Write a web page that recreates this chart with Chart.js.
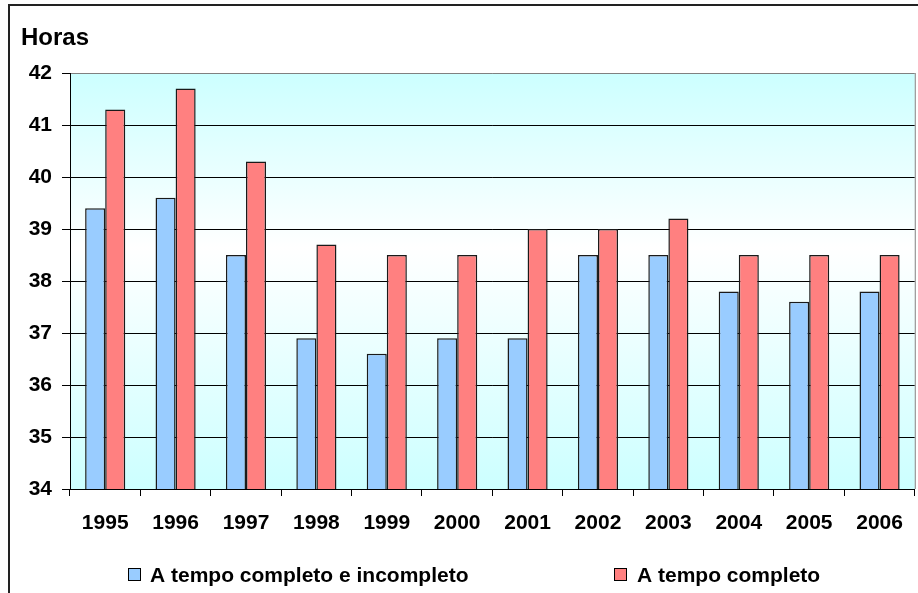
<!DOCTYPE html>
<html>
<head>
<meta charset="utf-8">
<script src="https://cdn.jsdelivr.net/npm/chart.js@4"></script>
<style>
  body { margin: 0; background: #fff; }
  #wrap { width: 918px; height: 593px; position: relative; }
</style>
</head>
<body>
<div id="wrap"><canvas id="barChart"></canvas></div>
<script>
var years = ["1995", "1996", "1997", "1998", "1999", "2000", "2001", "2002", "2003", "2004", "2005", "2006"];
var partAndFull = [39.4, 39.6, 38.5, 36.9, 36.6, 36.9, 36.9, 38.5, 38.5, 37.8, 37.6, 37.8];
var fullOnly = [41.3, 41.7, 40.3, 38.7, 38.5, 38.5, 39.0, 39.0, 39.2, 38.5, 38.5, 38.5];
var seriesNames = ["A tempo completo e incompleto", "A tempo completo"];
var yMin = 34, yMax = 42;

var FONT = '"Liberation Sans", Arial, sans-serif';

// fundo degradê, moldura, título "Horas" e legenda
var decor = {
  id: 'decor',
  beforeDraw: function (chart) {
    var c = chart.ctx, a = chart.chartArea;
    c.save();
    var g = c.createLinearGradient(0, a.top, 0, a.bottom);
    g.addColorStop(0, '#ccffff');
    g.addColorStop(0.42, '#ffffff');
    g.addColorStop(1, '#ccffff');
    c.fillStyle = g;
    c.fillRect(a.left, a.top, a.right - a.left, a.bottom - a.top);
    c.restore();
  },
  afterDraw: function (chart) {
    var c = chart.ctx, a = chart.chartArea;
    c.save();
    // borda direita da área do gráfico
    c.strokeStyle = '#808080';
    c.lineWidth = 1;
    c.beginPath();
    c.moveTo(a.right + 0.5, a.top);
    c.lineTo(a.right + 0.5, a.bottom);
    c.stroke();
    // moldura externa
    c.strokeStyle = '#222';
    c.lineWidth = 2;
    c.beginPath();
    c.moveTo(chart.width, 5);
    c.lineTo(9, 5);
    c.lineTo(9, chart.height);
    c.stroke();
    // título do eixo
    c.fillStyle = '#000';
    c.font = 'bold 24px ' + FONT;
    c.textBaseline = 'alphabetic';
    c.textAlign = 'left';
    c.fillText('Horas', 21, 45);
    // legenda
    var items = [{x: 128, tx: 150}, {x: 614, tx: 637}];
    c.font = 'bold 21px ' + FONT;
    c.textBaseline = 'middle';
    chart.data.datasets.forEach(function (ds, i) {
      c.fillStyle = ds.backgroundColor;
      c.fillRect(items[i].x, 568, 12, 12);
      c.strokeStyle = '#000';
      c.lineWidth = 1;
      c.strokeRect(items[i].x + 0.5, 568.5, 12, 12);
      c.fillStyle = '#000';
      c.fillText(ds.label, items[i].tx, 576);
    });
    c.restore();
  }
};

var ctxB = document.getElementById("barChart").getContext('2d');
var myBarChart = new Chart(ctxB, {
  type: 'bar',
  data: {
    labels: years,
    datasets: [{
      label: seriesNames[0],
      data: partAndFull,
      backgroundColor: '#99ccff',
      borderColor: '#1a1a1a',
      borderWidth: 1.5,
      borderSkipped: 'bottom'
    },
    {
      label: seriesNames[1],
      data: fullOnly,
      backgroundColor: '#ff8080',
      borderColor: '#1a1a1a',
      borderWidth: 1.5,
      borderSkipped: 'bottom'
    }]
  },
  options: {
    responsive: true,
    maintainAspectRatio: false,
    animation: false,
    layout: { padding: { top: 73, left: 0, right: 2, bottom: 0 } },
    datasets: { bar: { categoryPercentage: 0.57, barPercentage: 1.0 } },
    plugins: {
      legend: { display: false },
      tooltip: { enabled: false }
    },
    scales: {
      x: {
        offset: true,
        grid: {
          offset: true,
          drawOnChartArea: false,
          drawTicks: true,
          tickLength: 7,
          tickColor: '#000'
        },
        border: { display: true, color: '#000', width: 1 },
        ticks: {
          color: '#000',
          padding: 15,
          maxRotation: 0,
          font: { family: FONT, size: 21, weight: 'bold' }
        },
        afterFit: function (scale) { scale.height = 104; }
      },
      y: {
        min: yMin,
        max: yMax,
        grid: {
          color: function (ctx) { return ctx.tick && ctx.tick.value === yMax ? '#808080' : '#000'; },
          lineWidth: 1,
          tickLength: 8,
          tickColor: '#000'
        },
        border: { display: true, color: '#000', width: 1 },
        ticks: {
          stepSize: 1,
          color: '#000',
          padding: 10,
          font: { family: FONT, size: 21, weight: 'bold' }
        },
        afterFit: function (scale) { scale.width = 70; }
      }
    }
  },
  plugins: [decor]
});
</script>
</body>
</html>
